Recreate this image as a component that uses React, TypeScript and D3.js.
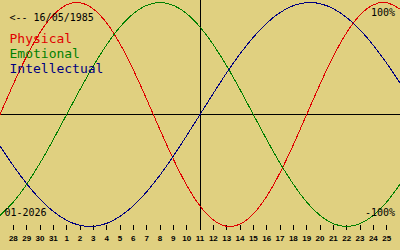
import React from "react";
import * as d3 from "d3";

const W = 400;
const H = 250;

// day labels for ticks (index 1..29)
const dayLabels = ["28", "29", "30", "31", "1", "2", "3", "4", "5", "6", "7", "8", "9", "10", "11", "12", "13", "14", "15", "16", "17", "18", "19", "20", "21", "22", "23", "24", "25"];

// daily values (27 Dec .. 26 Jan), fraction of 100%
const physical = [0, 0.27, 0.52, 0.731, 0.888, 0.979, 0.998, 0.942, 0.817, 0.631, 0.398, 0.136, -0.136, -0.398, -0.631, -0.817, -0.942, -0.998, -0.979, -0.888, -0.731, -0.52, -0.27, 0, 0.27, 0.52, 0.731, 0.888, 0.979, 0.998, 0.942];
const emotional = [-0.901, -0.782, -0.623, -0.434, -0.223, 0, 0.223, 0.434, 0.623, 0.782, 0.901, 0.975, 1, 0.975, 0.901, 0.782, 0.623, 0.434, 0.223, 0, -0.223, -0.434, -0.623, -0.782, -0.901, -0.975, -1, -0.975, -0.901, -0.782, -0.623];
const intellectual = [-0.282, -0.458, -0.618, -0.756, -0.866, -0.945, -0.99, -0.999, -0.972, -0.91, -0.815, -0.69, -0.541, -0.372, -0.189, 0, 0.189, 0.372, 0.541, 0.69, 0.815, 0.91, 0.972, 0.999, 0.99, 0.945, 0.866, 0.756, 0.618, 0.458, 0.282];

const seriesNames = ["Physical", "Emotional", "Intellectual"];
const seriesColors = ["#e00000", "#008000", "#000080"];
const seriesData = [physical, emotional, intellectual];

const birthLabel = "<-- 16/05/1985";
const monthLabel = "01-2026";
const topLabel = "100%";
const bottomLabel = "-100%";

export default function App() {
  const x = d3.scaleLinear().domain([0, 30]).range([0, W]);
  const y = d3.scaleLinear().domain([-1, 1]).range([226.5, 2.5]);
  const line = d3
    .line<number>()
    .x((_, i) => x(i))
    .y((d) => y(d))
    .curve(d3.curveNatural);

  const mono = "'DejaVu Sans Mono', monospace";
  const centerX = Math.round(x(15)) + 0.5;
  const zeroY = Math.floor(y(0)) + 0.5;

  return (
    <svg
      width={W}
      height={H}
      style={{ position: "fixed", left: 0, top: 0, display: "block" }}
    >
      <rect x={0} y={0} width={W} height={H} fill="#e0d080" />
      {/* axes */}
      <line x1={0} x2={W} y1={zeroY} y2={zeroY} stroke="#000" strokeWidth={1} shapeRendering="crispEdges" />
      <line x1={centerX} x2={centerX} y1={0} y2={230} stroke="#000" strokeWidth={1} shapeRendering="crispEdges" />
      {/* ticks */}
      {dayLabels.map((lab, k) => {
        const i = k + 1;
        const tx = Math.floor(x(i)) + 0.5;
        return (
          <g key={i}>
            <line x1={tx} x2={tx} y1={225} y2={230} stroke="#000" strokeWidth={1} shapeRendering="crispEdges" />
            <text
              x={x(i)}
              y={241}
              textAnchor="middle"
              fontFamily="'Liberation Sans', Arial, sans-serif"
              fontWeight="bold"
              fontSize={8}
              fill="#000"
            >
              {lab}
            </text>
          </g>
        );
      })}
      {/* curves */}
      {seriesData.map((s, j) => (
        <path
          key={j}
          d={line(s) || ""}
          fill="none"
          stroke={seriesColors[j]}
          strokeWidth={1}
          shapeRendering="crispEdges"
        />
      ))}
      {/* texts */}
      <text x={9.5} y={21} fontFamily={mono} fontSize={10} fill="#000">{birthLabel}</text>
      {seriesNames.map((n, j) => (
        <text key={n} x={9.5} y={43 + j * 15} fontFamily={mono} fontSize={13} fill={seriesColors[j]}>
          {n}
        </text>
      ))}
      <text x={4.5} y={216} fontFamily={mono} fontSize={10} fill="#000">{monthLabel}</text>
      <text x={395} y={16} textAnchor="end" fontFamily={mono} fontSize={10} fill="#000">{topLabel}</text>
      <text x={395} y={216} textAnchor="end" fontFamily={mono} fontSize={10} fill="#000">{bottomLabel}</text>
    </svg>
  );
}
